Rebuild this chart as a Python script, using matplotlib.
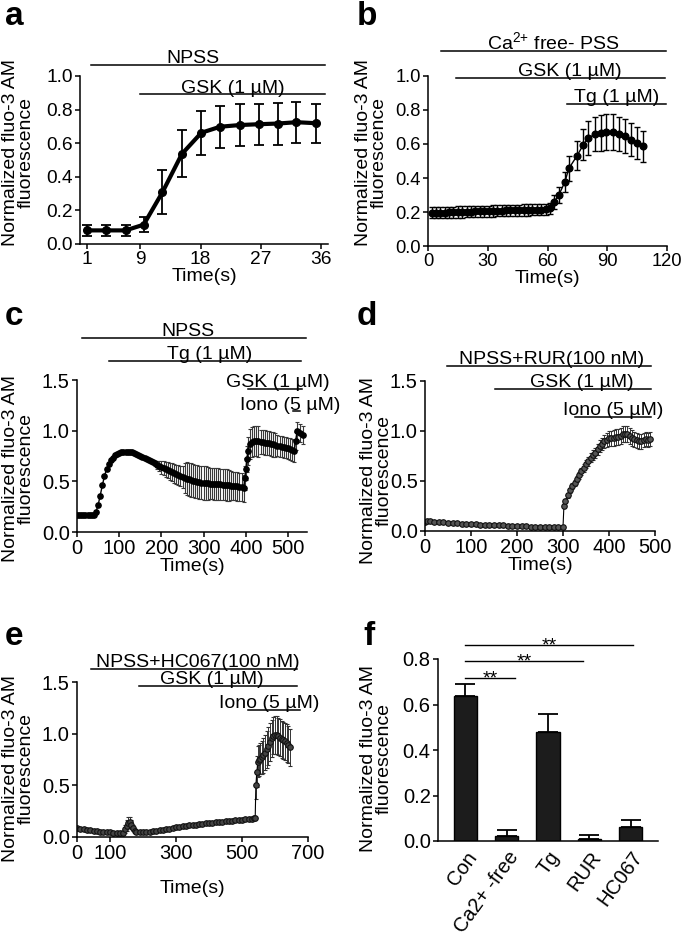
import matplotlib
matplotlib.use('Agg')
import matplotlib.pyplot as plt
from matplotlib.ticker import FormatStrFormatter

plt.rcParams['font.family'] = 'Liberation Sans'
plt.rcParams['mathtext.fontset'] = 'custom'
plt.rcParams['mathtext.rm'] = 'Liberation Sans'
plt.rcParams['mathtext.it'] = 'Liberation Sans:italic'
plt.rcParams['mathtext.bf'] = 'Liberation Sans:bold'

# ---- panel a: NPSS + GSK
a_t = [1, 3.9, 6.8, 9.5, 12.3, 15.2, 18.1, 20.9, 23.8, 26.7, 29.5, 32.3, 35.2]
a_y = [0.081, 0.081, 0.081, 0.115, 0.308, 0.536, 0.662, 0.698, 0.708, 0.713, 0.717, 0.725, 0.719]
a_err = [0.032, 0.032, 0.032, 0.045, 0.13, 0.14, 0.13, 0.125, 0.123, 0.122, 0.125, 0.123, 0.115]

# ---- panel b: Ca-free PSS + GSK + Tg
b_t = [1.8, 4.0, 6.2, 8.4, 10.6, 12.8, 15.0, 17.2, 19.4, 21.6, 23.8, 26.0, 28.2, 30.4,
       32.6, 34.8, 37.0, 39.2, 41.4, 43.6, 45.8, 48.0, 50.2, 52.4, 54.6, 56.8, 59.0, 61.2,
       63.3, 65.7, 68.7, 70.7, 74.8, 78.0, 80.5, 83.8, 86.7, 89.5, 92.8, 95.7, 98.9, 101.8, 105.0, 108.0]
b_y = [0.195, 0.196, 0.197, 0.197, 0.198, 0.199, 0.200, 0.200, 0.201, 0.202, 0.203, 0.203, 0.204, 0.205,
       0.206, 0.207, 0.208, 0.209, 0.210, 0.210, 0.211, 0.212, 0.212, 0.213, 0.213, 0.214, 0.215, 0.222,
       0.26, 0.30, 0.376, 0.456, 0.53, 0.596, 0.636, 0.656, 0.666, 0.672, 0.670, 0.660, 0.646, 0.626, 0.606, 0.586]
b_err = [0.033, 0.033, 0.033, 0.033, 0.033, 0.033, 0.033, 0.033, 0.033, 0.033, 0.033, 0.033, 0.033, 0.033,
         0.033, 0.033, 0.033, 0.033, 0.033, 0.033, 0.033, 0.033, 0.033, 0.033, 0.033, 0.033, 0.033, 0.033,
         0.04, 0.045, 0.06, 0.075, 0.085, 0.09, 0.1, 0.1, 0.105, 0.105, 0.105, 0.1, 0.1, 0.095, 0.095, 0.09]

# ---- panel c: NPSS + Tg + GSK + Iono
c_t = [0, 5, 10, 15, 20, 25, 30, 35, 40, 45, 50, 55, 60, 65, 70, 75, 80, 85, 90, 95,
       100, 105, 110, 115, 120, 125, 130, 135, 140, 145, 150, 155, 160, 165, 170, 175, 180, 185, 190, 195,
       200, 205, 210, 215, 220, 225, 230, 235, 240, 245, 250, 255, 260, 265, 270, 275, 280, 285, 290, 295,
       300, 305, 310, 315, 320, 325, 330, 335, 340, 345, 350, 355, 360, 365, 370, 375, 380, 385, 390, 395,
       397.5, 400, 402.5, 405, 410, 415, 420, 425, 430, 435, 440, 445, 450, 455, 460, 465, 470, 475, 480, 485,
       490, 495, 500, 505, 510, 515, 518, 522, 528, 535]
c_y = [0.170, 0.170, 0.168, 0.167, 0.166, 0.165, 0.165, 0.166, 0.170, 0.200, 0.265, 0.360, 0.460, 0.550, 0.620, 0.670, 0.710, 0.735, 0.755, 0.770,
       0.780, 0.786, 0.790, 0.792, 0.790, 0.789, 0.786, 0.780, 0.772, 0.763, 0.753, 0.743, 0.733, 0.722, 0.712, 0.700, 0.690, 0.678, 0.665, 0.652,
       0.640, 0.630, 0.620, 0.610, 0.600, 0.590, 0.580, 0.570, 0.560, 0.551, 0.543, 0.535, 0.526, 0.520, 0.513, 0.506, 0.500, 0.496, 0.491, 0.487,
       0.484, 0.482, 0.480, 0.478, 0.477, 0.475, 0.474, 0.472, 0.470, 0.468, 0.466, 0.463, 0.460, 0.458, 0.455, 0.452, 0.450, 0.447, 0.444, 0.430,
       0.530, 0.620, 0.720, 0.800, 0.870, 0.890, 0.900, 0.900, 0.895, 0.890, 0.885, 0.882, 0.879, 0.875, 0.870, 0.865, 0.860, 0.853, 0.846, 0.842,
       0.837, 0.832, 0.827, 0.820, 0.810, 0.800, 0.900, 1.000, 0.975, 0.960]
c_err = [0.012, 0.012, 0.012, 0.012, 0.012, 0.012, 0.012, 0.012, 0.012, 0.015, 0.015, 0.015, 0.015, 0.015, 0.015, 0.015, 0.015, 0.015, 0.015, 0.015,
         0.015, 0.015, 0.015, 0.015, 0.015, 0.016, 0.016, 0.016, 0.017, 0.017, 0.017, 0.018, 0.018, 0.018, 0.019, 0.019, 0.020, 0.025, 0.040, 0.050,
         0.065, 0.070, 0.075, 0.080, 0.085, 0.090, 0.093, 0.096, 0.100, 0.100, 0.105, 0.150, 0.160, 0.165, 0.165, 0.165, 0.165, 0.165, 0.165, 0.165,
         0.165, 0.165, 0.165, 0.155, 0.155, 0.155, 0.155, 0.155, 0.155, 0.155, 0.155, 0.155, 0.150, 0.140, 0.140, 0.140, 0.140, 0.140, 0.135, 0.130,
         0.120, 0.110, 0.130, 0.140, 0.150, 0.150, 0.150, 0.150, 0.150, 0.120, 0.120, 0.120, 0.120, 0.120, 0.120, 0.120, 0.120, 0.105, 0.105, 0.105,
         0.105, 0.105, 0.105, 0.105, 0.105, 0.105, 0.090, 0.090, 0.090, 0.090]

# ---- panel d: NPSS+RUR + GSK + Iono
d_t = [0, 5, 10, 20, 30, 40, 50, 60, 70, 80, 90, 100, 110, 120, 130, 140, 150, 160, 170, 180,
       190, 200, 210, 220, 230, 240, 250, 260, 270, 280, 290, 300, 302, 305, 310, 315, 320, 325, 330, 335,
       340, 345, 350, 355, 360, 365, 370, 375, 380, 385, 390, 395, 400, 405, 410, 415, 420, 425, 430, 435,
       440, 445, 450, 455, 460, 465, 470, 475, 480, 485, 490]
d_y = [0.095, 0.100, 0.098, 0.095, 0.092, 0.088, 0.085, 0.080, 0.078, 0.075, 0.072, 0.068, 0.066, 0.064, 0.062, 0.062, 0.060, 0.058, 0.056, 0.055,
       0.053, 0.050, 0.048, 0.046, 0.038, 0.042, 0.042, 0.041, 0.040, 0.040, 0.040, 0.040, 0.250, 0.300, 0.360, 0.410, 0.450, 0.485, 0.517, 0.560,
       0.600, 0.635, 0.667, 0.700, 0.733, 0.760, 0.783, 0.820, 0.850, 0.875, 0.900, 0.915, 0.927, 0.930, 0.933, 0.937, 0.940, 0.955, 0.967, 0.970,
       0.973, 0.950, 0.933, 0.920, 0.907, 0.900, 0.900, 0.910, 0.917, 0.915, 0.917]
d_err = [0.012, 0.012, 0.012, 0.012, 0.012, 0.012, 0.012, 0.012, 0.012, 0.012, 0.012, 0.012, 0.012, 0.012, 0.012, 0.012, 0.012, 0.012, 0.012, 0.012,
         0.012, 0.012, 0.012, 0.012, 0.012, 0.012, 0.012, 0.012, 0.012, 0.012, 0.012, 0.012, 0.020, 0.020, 0.025, 0.025, 0.030, 0.030, 0.030, 0.035,
         0.035, 0.040, 0.040, 0.045, 0.045, 0.050, 0.050, 0.055, 0.060, 0.060, 0.065, 0.070, 0.075, 0.075, 0.080, 0.080, 0.080, 0.080, 0.080, 0.080,
         0.080, 0.080, 0.080, 0.075, 0.075, 0.075, 0.075, 0.070, 0.070, 0.070, 0.070]

# ---- panel e: NPSS+HC067 + GSK + Iono
e_t = [0, 10, 20, 30, 40, 50, 60, 70, 80, 90, 100, 110, 120, 130, 140, 145, 150, 155, 160, 165,
       170, 175, 180, 190, 200, 210, 220, 230, 240, 250, 260, 270, 280, 290, 300, 310, 320, 330, 340, 350,
       360, 370, 380, 390, 400, 410, 420, 430, 440, 450, 460, 470, 480, 490, 500, 510, 520, 530, 535, 540,
       542, 545, 548, 552, 556, 560, 565, 570, 575, 580, 585, 590, 595, 600, 605, 610, 615, 620, 625, 630,
       635, 640, 645]
e_y = [0.084, 0.080, 0.075, 0.070, 0.065, 0.060, 0.056, 0.053, 0.050, 0.047, 0.044, 0.042, 0.038, 0.034, 0.040, 0.074, 0.110, 0.140, 0.148, 0.120,
       0.085, 0.060, 0.050, 0.045, 0.045, 0.048, 0.052, 0.055, 0.060, 0.065, 0.070, 0.075, 0.080, 0.088, 0.095, 0.100, 0.104, 0.108, 0.112, 0.116,
       0.120, 0.124, 0.128, 0.132, 0.136, 0.139, 0.142, 0.145, 0.148, 0.152, 0.155, 0.158, 0.161, 0.164, 0.167, 0.170, 0.173, 0.176, 0.180, 0.185,
       0.500, 0.630, 0.730, 0.745, 0.755, 0.770, 0.790, 0.815, 0.850, 0.880, 0.920, 0.955, 0.980, 0.990, 0.985, 0.975, 0.960, 0.945, 0.935, 0.925,
       0.910, 0.895, 0.870]
e_err = [0.015, 0.015, 0.015, 0.015, 0.015, 0.015, 0.015, 0.015, 0.015, 0.015, 0.015, 0.015, 0.015, 0.015, 0.020, 0.040, 0.050, 0.050, 0.050, 0.045,
         0.030, 0.020, 0.015, 0.015, 0.015, 0.015, 0.015, 0.015, 0.015, 0.015, 0.015, 0.015, 0.015, 0.015, 0.015, 0.015, 0.015, 0.015, 0.015, 0.015,
         0.015, 0.015, 0.015, 0.015, 0.015, 0.015, 0.015, 0.015, 0.015, 0.015, 0.015, 0.015, 0.015, 0.015, 0.018, 0.018, 0.018, 0.018, 0.018, 0.018,
         0.130, 0.150, 0.150, 0.150, 0.150, 0.160, 0.170, 0.170, 0.180, 0.180, 0.180, 0.180, 0.180, 0.185, 0.185, 0.180, 0.180, 0.180, 0.180, 0.180,
         0.180, 0.180, 0.180]

# ---- panel f: summary bars
f_groups = ['Con', 'Ca2+ -free', 'Tg', 'RUR', 'HC067']
f_mean = [0.637, 0.023, 0.48, 0.007, 0.06]
f_sem = [0.052, 0.024, 0.08, 0.019, 0.032]
f_sig = [(0, 1, '**'), (0, 3, '**'), (0, 4, '**')]

YLAB = 'Normalized fluo-3 AM\nfluorescence'
W, H = 685, 935
fig = plt.figure(figsize=(W / 100, H / 100), dpi=100)


def make_axes(l, t, r, b, tsize=14.5):
    ax = fig.add_axes([l / W, 1 - b / H, (r - l) / W, (b - t) / H])
    ax.spines['top'].set_visible(False)
    ax.spines['right'].set_visible(False)
    ax.spines['left'].set_linewidth(1.1)
    ax.spines['bottom'].set_linewidth(1.1)
    ax.tick_params(direction='out', length=3.8, width=1.1, labelsize=tsize, pad=1.5)
    return ax


def treatment(ax, x0, x1, y, label, tx):
    ax.plot([x0, x1], [y, y], color='k', lw=1.1, clip_on=False)
    ax.annotate(label, (tx, y), xytext=(0, 1.3), textcoords='offset points',
                ha='center', va='baseline', fontsize=14, annotation_clip=False)


def ylabel_px(x, y):
    fig.text(x / W, 1 - y / H, YLAB, rotation=90, ha='center', va='center',
             multialignment='center', fontsize=14, linespacing=0.85)


def letter(x, y, s):
    fig.text(x / W, 1 - y / H, s, fontsize=24, fontweight='bold', ha='left', va='baseline')


# a
ax = make_axes(80, 76, 328, 244, 13.8)
ax.errorbar(a_t, a_y, yerr=a_err, fmt='-o', color='k', lw=3, ms=5.5,
            capsize=3.5, elinewidth=1.3, capthick=1.3)
ax.set_xlim(0, 37)
ax.set_ylim(0, 1.0)
ax.set_xticks([1, 9, 18, 27, 36])
ax.set_yticks([0, 0.2, 0.4, 0.6, 0.8, 1.0])
ax.yaxis.set_major_formatter(FormatStrFormatter('%.1f'))
ax.set_xlabel('Time(s)', fontsize=14, labelpad=0)
treatment(ax, 1.6, 36.6, 1.065, 'NPSS', 16.8)
treatment(ax, 8.9, 36.6, 0.891, 'GSK (1 µM)', 22.8)
ylabel_px(18.5, 153)
letter(5, 25, 'a')

# b
ax = make_axes(428, 76, 667, 246, 13.2)
ax.errorbar(b_t, b_y, yerr=b_err, fmt='-o', color='k', lw=1.0, ms=4.8,
            capsize=2.3, elinewidth=1.0, capthick=1.0)
ax.set_xlim(0, 120)
ax.set_ylim(0, 1.0)
ax.set_xticks([0, 30, 60, 90, 120])
ax.set_yticks([0, 0.2, 0.4, 0.6, 0.8, 1.0])
ax.yaxis.set_major_formatter(FormatStrFormatter('%.1f'))
ax.set_xlabel('Time(s)', fontsize=14, labelpad=0)
treatment(ax, 6.4, 119.5, 1.147, r'Ca$^{2{+}}$ free- PSS', 63)
treatment(ax, 13.9, 119, 0.988, 'GSK (1 µM)', 71.4)
treatment(ax, 70, 119.5, 0.835, 'Tg (1 µM)', 94.5)
ylabel_px(371.5, 153)
letter(357, 25, 'b')

# c
ax = make_axes(77, 380, 307, 532)
ax.errorbar(c_t, c_y, yerr=c_err, fmt='-o', color='k', lw=1.0, ms=3.8,
            ecolor='#3a3a3a', capsize=1.2, elinewidth=0.8, capthick=0.8)
ax.set_xlim(0, 545)
ax.set_ylim(0, 1.5)
ax.set_xticks([0, 100, 200, 300, 400, 500])
ax.set_yticks([0, 0.5, 1.0, 1.5])
ax.yaxis.set_major_formatter(FormatStrFormatter('%.1f'))
ax.set_xlabel('Time(s)', fontsize=14, labelpad=0)
treatment(ax, 12, 543, 1.915, 'NPSS', 263)
treatment(ax, 76, 530, 1.688, 'Tg (1 µM)', 315)
treatment(ax, 405, 533, 1.41, 'GSK (1 µM)', 476)
treatment(ax, 512, 528, 1.19, 'Iono (5 µM)', 505)
ylabel_px(18.5, 469)
letter(5, 325, 'c')

# d
ax = make_axes(425, 381, 655, 531)
ax.errorbar(d_t, d_y, yerr=d_err, fmt='-o', color='k', lw=0.8, ms=4.0,
            mfc='#555555', mec='#111111', mew=0.8,
            ecolor='#333333', capsize=1.5, elinewidth=0.7, capthick=0.7)
ax.set_xlim(0, 500)
ax.set_ylim(0, 1.5)
ax.set_xticks([0, 100, 200, 300, 400, 500])
ax.set_yticks([0, 0.5, 1.0, 1.5])
ax.yaxis.set_major_formatter(FormatStrFormatter('%.1f'))
ax.set_xlabel('Time(s)', fontsize=14, labelpad=0)
treatment(ax, 48, 491, 1.65, 'NPSS+RUR(100 nM)', 276)
treatment(ax, 152, 491, 1.42, 'GSK (1 µM)', 341)
treatment(ax, 326, 491, 1.14, 'Iono (5 µM)', 409)
ylabel_px(376.5, 470)
letter(357, 325, 'd')

# e
ax = make_axes(77, 682, 308, 837)
ax.errorbar(e_t, e_y, yerr=e_err, fmt='-o', color='k', lw=0.8, ms=4.0,
            mfc='#444444', mec='#111111', mew=0.8,
            ecolor='#333333', capsize=1.5, elinewidth=0.7, capthick=0.7)
ax.set_xlim(0, 700)
ax.set_ylim(0, 1.5)
ax.set_xticks([0, 100, 300, 500, 700])
ax.set_yticks([0, 0.5, 1.0, 1.5])
ax.yaxis.set_major_formatter(FormatStrFormatter('%.1f'))
ax.set_xlabel('Time(s)', fontsize=14, labelpad=12)
treatment(ax, 42, 667, 1.63, 'NPSS+HC067(100 nM)', 367)
treatment(ax, 188, 667, 1.46, 'GSK (1 µM)', 409)
treatment(ax, 518, 676, 1.23, 'Iono (5 µM)', 582)
ylabel_px(18.5, 769)
letter(5, 645, 'e')

# f
ax = make_axes(438, 659, 658, 841)
pos = list(range(len(f_groups)))
ax.bar(pos, f_mean, width=0.57, color='#1c1c1c', edgecolor='black', linewidth=1.0, zorder=2)
ax.errorbar(pos, f_mean, yerr=[[0] * len(f_mean), f_sem], fmt='none', ecolor='black',
            elinewidth=1.3, capsize=7, capthick=1.3, zorder=3)
ax.set_xlim(-0.66, 4.66)
ax.set_ylim(0, 0.8)
ax.set_yticks([0, 0.2, 0.4, 0.6, 0.8])
ax.yaxis.set_major_formatter(FormatStrFormatter('%.1f'))
ax.set_xticks(pos)
ax.set_xticklabels(f_groups, rotation=54, ha='right', rotation_mode='anchor', fontsize=14.5)
ax.tick_params(axis='x', length=0, pad=5)
sig_y = [0.716, 0.79, 0.86]
sig_end = [0.2, -0.15, 0.05]
for (i, j, s), yy, ex in zip(f_sig, sig_y, sig_end):
    x0, x1 = pos[i], pos[j] + ex
    ax.plot([x0, x1], [yy, yy], color='k', lw=1.0, clip_on=False)
    ax.annotate(s, ((x0 + x1) / 2, yy), xytext=(0, -4), textcoords='offset points',
                ha='center', va='baseline', fontsize=14, annotation_clip=False)
ylabel_px(376.5, 758)
letter(363, 645, 'f')

fig.savefig('out.png', dpi=100)
